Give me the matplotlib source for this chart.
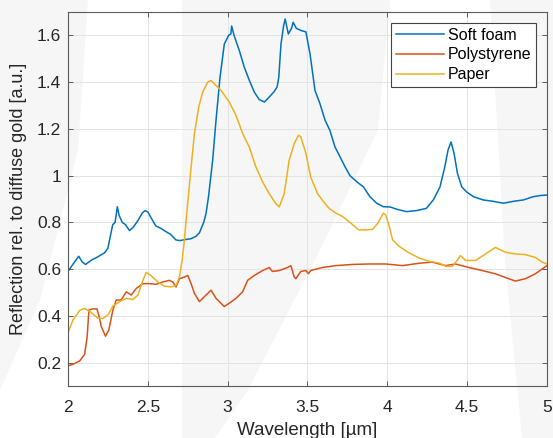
import numpy as np
import matplotlib
matplotlib.use("Agg")
import matplotlib.pyplot as plt
from matplotlib.patches import Polygon

# --- data (wavelength in um, reflection in a.u.) ---
foam_x = [2.00, 2.03, 2.067, 2.09, 2.11, 2.15, 2.18, 2.23, 2.25, 2.265, 2.28, 2.295,
          2.309, 2.32, 2.34, 2.36, 2.385, 2.41, 2.44, 2.465, 2.482, 2.50, 2.52, 2.55,
          2.58, 2.614, 2.64, 2.676, 2.70, 2.739, 2.77, 2.80, 2.823, 2.85, 2.865, 2.88,
          2.906, 2.927, 2.952, 2.979, 3.006, 3.02, 3.025, 3.04, 3.073, 3.104, 3.136,
          3.167, 3.198, 3.23, 3.26, 3.292, 3.31, 3.32, 3.334, 3.35, 3.36, 3.38, 3.40,
          3.41, 3.43, 3.463, 3.49, 3.516, 3.547, 3.578, 3.61, 3.64, 3.672, 3.704,
          3.735, 3.766, 3.808, 3.85, 3.891, 3.933, 3.975, 4.017, 4.06, 4.12, 4.18,
          4.245, 4.288, 4.33, 4.36, 4.38, 4.399, 4.418, 4.439, 4.466, 4.497, 4.539,
          4.60, 4.664, 4.727, 4.789, 4.852, 4.914, 4.96, 5.00]
foam_y = [0.59, 0.62, 0.655, 0.63, 0.62, 0.64, 0.65, 0.67, 0.69, 0.74, 0.79, 0.80,
          0.867, 0.83, 0.80, 0.79, 0.765, 0.78, 0.81, 0.84, 0.85, 0.845, 0.82, 0.785,
          0.775, 0.76, 0.75, 0.725, 0.722, 0.727, 0.73, 0.74, 0.755, 0.80, 0.84, 0.91,
          1.066, 1.237, 1.42, 1.563, 1.60, 1.606, 1.64, 1.60, 1.535, 1.464, 1.407,
          1.357, 1.325, 1.315, 1.336, 1.36, 1.38, 1.42, 1.563, 1.64, 1.67, 1.606, 1.63,
          1.656, 1.63, 1.62, 1.615, 1.52, 1.364, 1.308, 1.237, 1.194, 1.123, 1.08,
          1.038, 1.0, 0.974, 0.952, 0.91, 0.882, 0.867, 0.866, 0.856, 0.846, 0.85,
          0.86, 0.896, 0.952, 1.038, 1.109, 1.144, 1.095, 1.01, 0.952, 0.93, 0.91,
          0.896, 0.89, 0.882, 0.89, 0.896, 0.91, 0.915, 0.917]

poly_x = [2.00, 2.031, 2.073, 2.104, 2.12, 2.131, 2.156, 2.181, 2.194, 2.208, 2.235,
          2.256, 2.281, 2.302, 2.333, 2.365, 2.396, 2.427, 2.469, 2.51, 2.552, 2.594,
          2.635, 2.656, 2.677, 2.698, 2.729, 2.75, 2.771, 2.792, 2.823, 2.854, 2.896,
          2.927, 2.958, 2.979, 3.01, 3.052, 3.094, 3.125, 3.167, 3.219, 3.26, 3.28,
          3.323, 3.375, 3.396, 3.417, 3.427, 3.458, 3.49, 3.506, 3.52, 3.594, 3.677,
          3.78, 3.885, 3.99, 4.094, 4.198, 4.281, 4.365, 4.427, 4.51, 4.594, 4.677,
          4.76, 4.802, 4.865, 4.927, 5.00]
poly_y = [0.186, 0.193, 0.207, 0.235, 0.31, 0.425, 0.43, 0.43, 0.40, 0.355, 0.313,
          0.34, 0.425, 0.468, 0.468, 0.503, 0.489, 0.517, 0.538, 0.538, 0.535, 0.545,
          0.552, 0.545, 0.524, 0.559, 0.566, 0.573, 0.538, 0.496, 0.461, 0.482, 0.51,
          0.475, 0.454, 0.44, 0.454, 0.475, 0.503, 0.552, 0.573, 0.594, 0.607, 0.59,
          0.594, 0.607, 0.615, 0.566, 0.559, 0.59, 0.594, 0.58, 0.594, 0.607, 0.615,
          0.62, 0.622, 0.622, 0.615, 0.625, 0.63, 0.615, 0.622, 0.607, 0.594, 0.58,
          0.559, 0.549, 0.559, 0.58, 0.615]

paper_x = [2.00, 2.031, 2.073, 2.104, 2.146, 2.187, 2.219, 2.25, 2.281, 2.323, 2.365,
           2.406, 2.438, 2.469, 2.49, 2.521, 2.563, 2.604, 2.646, 2.677, 2.698, 2.715,
           2.729, 2.74, 2.771, 2.792, 2.819, 2.844, 2.875, 2.896, 2.927, 2.958, 3.01,
           3.052, 3.094, 3.135, 3.177, 3.219, 3.26, 3.302, 3.323, 3.354, 3.385, 3.417,
           3.444, 3.458, 3.49, 3.52, 3.563, 3.594, 3.635, 3.677, 3.72, 3.766, 3.82,
           3.866, 3.908, 3.94, 3.975, 3.99, 4.012, 4.033, 4.075, 4.138, 4.20, 4.263,
           4.325, 4.367, 4.409, 4.44, 4.458, 4.49, 4.552, 4.615, 4.677, 4.74, 4.802,
           4.865, 4.927, 4.969, 5.00]
paper_y = [0.327, 0.383, 0.423, 0.432, 0.414, 0.39, 0.389, 0.404, 0.442, 0.461, 0.475,
           0.47, 0.489, 0.552, 0.586, 0.572, 0.545, 0.527, 0.524, 0.531, 0.566, 0.639,
           0.724, 0.81, 1.037, 1.18, 1.294, 1.358, 1.40, 1.407, 1.386, 1.365, 1.315,
           1.258, 1.18, 1.123, 1.037, 0.973, 0.923, 0.88, 0.866, 0.923, 1.065, 1.137,
           1.173, 1.166, 1.095, 0.994, 0.923, 0.894, 0.86, 0.84, 0.825, 0.80, 0.768,
           0.768, 0.77, 0.796, 0.839, 0.832, 0.782, 0.725, 0.697, 0.669, 0.647, 0.633,
           0.626, 0.612, 0.612, 0.64, 0.658, 0.637, 0.637, 0.665, 0.693, 0.672, 0.665,
           0.662, 0.65, 0.63, 0.622]

labels = ["Soft foam", "Polystyrene", "Paper"]
colors = ["#0072BD", "#D95319", "#EDB120"]
x_ticks = [2, 2.5, 3, 3.5, 4, 4.5, 5]
y_ticks = [0.2, 0.4, 0.6, 0.8, 1.0, 1.2, 1.4, 1.6]

plt.rcParams["font.family"] = ["Liberation Sans", "DejaVu Sans"]

W, H = 553, 438
fig = plt.figure(figsize=(W / 100, H / 100), dpi=100)
fig.patch.set_facecolor("white")

# faint watermark shapes behind the plot (pixel coords, y from top)
def _px_poly(pts):
    return Polygon([(x / W, 1 - y / H) for x, y in pts], closed=True,
                   transform=fig.transFigure, facecolor="#f6f6f6",
                   edgecolor="none", zorder=-10)

for pts in [
    [(0, 0), (88, 0), (78, 150), (40, 300), (0, 390)],
    [(182, 0), (390, 0), (378, 130), (320, 250), (248, 390), (215, 438), (182, 438)],
    [(490, 0), (553, 0), (553, 438), (522, 438), (505, 260)],
]:
    fig.patches.append(_px_poly(pts))

ax = fig.add_axes([68 / W, 1 - 386 / H, (547 - 68) / W, (386 - 12) / H])
ax.set_facecolor("none")

ax.plot(foam_x, foam_y, color=colors[0], lw=1.1, label=labels[0])
ax.plot(poly_x, poly_y, color=colors[1], lw=1.1, label=labels[1])
ax.plot(paper_x, paper_y, color=colors[2], lw=1.1, label=labels[2])

ax.set_xlim(2, 5)
ax.set_ylim(0.1, 1.7)
ax.set_xticks(x_ticks)
ax.set_xticklabels([f"{t:g}" for t in x_ticks])
ax.set_yticks(y_ticks)
ax.set_yticklabels([f"{t:g}" for t in y_ticks])

ax.grid(True, color="#e3e3e3", lw=0.7)
ax.set_axisbelow(True)
for s in ax.spines.values():
    s.set_color("#5a5a5a")
    s.set_linewidth(0.8)
ax.tick_params(direction="in", top=True, right=True, length=3.5, width=0.7,
               color="#5a5a5a", labelsize=12.5, labelcolor="#262626")
ax.tick_params(axis="x", pad=10)
ax.tick_params(axis="y", pad=5)

ax.set_xlabel("Wavelength [µm]", fontsize=13.5, color="#262626", labelpad=5)
ax.set_ylabel("Reflection rel. to diffuse gold [a.u.]", fontsize=13,
              color="#262626", labelpad=7)

leg = ax.legend(loc="upper right", fontsize=11.5, handlelength=3.0,
                fancybox=False, framealpha=1.0, borderpad=0.3,
                labelspacing=0.3, handletextpad=0.25, borderaxespad=0,
                bbox_to_anchor=(0.977, 0.971))
leg.get_frame().set_edgecolor("#444444")
leg.get_frame().set_linewidth(0.8)

fig.savefig("out.png", dpi=100)
